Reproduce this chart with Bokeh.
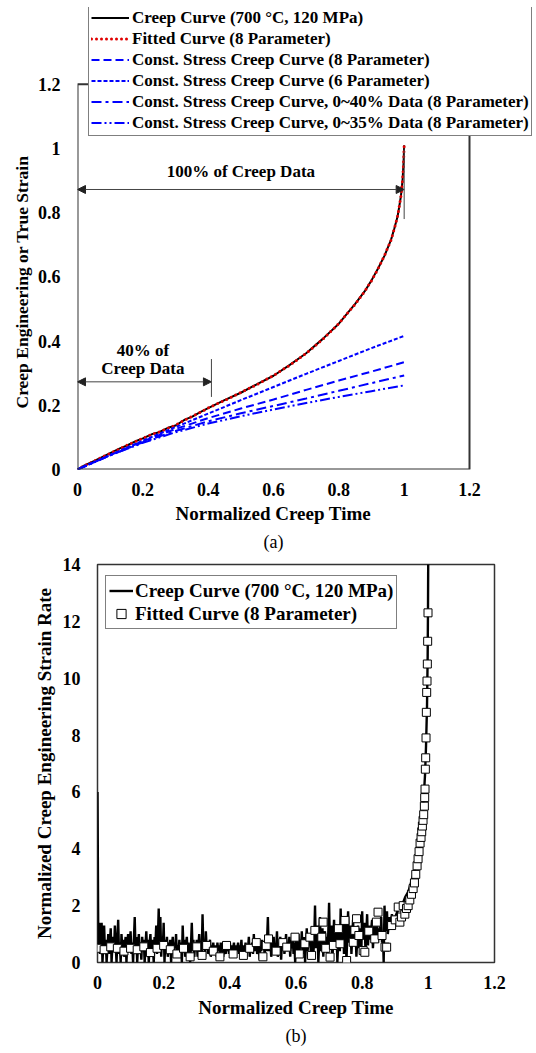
import numpy as np
from bokeh.plotting import figure
from bokeh.models import (Arrow, NormalHead, Label, Title, FixedTicker, Range1d, BoxAnnotation)
from bokeh.embed import file_html
from bokeh.resources import INLINE

# ---------------- Panel (a) data ----------------
creep_t = [0, 0.02, 0.05, 0.08, 0.1, 0.13, 0.15, 0.18, 0.2, 0.23, 0.25, 0.28, 0.3, 0.33, 0.35,
           0.38, 0.4, 0.45, 0.5, 0.55, 0.6, 0.65, 0.7, 0.75, 0.8, 0.85, 0.88, 0.9, 0.92,
           0.94, 0.96, 0.97, 0.98, 0.985, 0.99, 0.995, 0.998, 1.0]
creep_strain = [0, 0.012, 0.026, 0.041, 0.051, 0.066, 0.074, 0.089, 0.097, 0.111, 0.116, 0.131,
                0.137, 0.156, 0.164, 0.181, 0.191, 0.216, 0.239, 0.266, 0.292, 0.326, 0.362,
                0.406, 0.454, 0.516, 0.556, 0.589, 0.626, 0.666, 0.716, 0.751, 0.789,
                0.819, 0.851, 0.9, 0.952, 1.01]
fit8_strain = [0, 0.011, 0.026, 0.041, 0.05, 0.065, 0.075, 0.088, 0.098, 0.11, 0.117, 0.13,
               0.138, 0.155, 0.165, 0.18, 0.192, 0.215, 0.24, 0.265, 0.293, 0.325, 0.362,
               0.405, 0.455, 0.515, 0.556, 0.588, 0.625, 0.667, 0.715, 0.75, 0.79, 0.82,
               0.85, 0.9, 0.95, 1.01]
cs_t = [0, 0.1, 0.2, 0.3, 0.4, 0.5, 0.6, 0.7, 0.8, 0.9, 1.0]
cs8_strain = [0, 0.045, 0.088, 0.126, 0.16, 0.19, 0.218, 0.248, 0.277, 0.305, 0.334]
cs6_strain = [0, 0.045, 0.09, 0.132, 0.174, 0.216, 0.257, 0.298, 0.338, 0.378, 0.416]
cs40_strain = [0, 0.044, 0.085, 0.12, 0.15, 0.175, 0.198, 0.221, 0.245, 0.269, 0.293]
cs35_strain = [0, 0.044, 0.083, 0.116, 0.143, 0.166, 0.187, 0.207, 0.226, 0.244, 0.262]

x_ticks = [0, 0.2, 0.4, 0.6, 0.8, 1, 1.2]
x_tick_labels = ["0", "0.2", "0.4", "0.6", "0.8", "1", "1.2"]
ya_ticks = [0, 0.2, 0.4, 0.6, 0.8, 1, 1.2]
ya_tick_labels = ["0", "0.2", "0.4", "0.6", "0.8", "1", "1.2"]

# ---------------- Panel (b) data ----------------
rate_noisy = [
    6.0, 0.5, 1.4, 0.3, 0.7, 1.4, 0.0, 0.6, 1.3, 0.4, 0.8, 0.0, 0.5, 1.0, 0.3, 0.7, 1.2, 0.0, 0.6, 0.9,
    0.4, 1.3, 0.6, 0.0, 0.8, 1.5, 0.3, 0.7, 0.0, 1.0, 0.5, 0.8, 0.2, 0.6, 0.9, 0.0, 0.7, 1.0, 0.4, 0.6,
    1.1, 0.3, 0.7, 0.0, 0.8, 1.6, 0.4, 0.9, 0.0, 0.6, 1.0, 0.3, 0.7, 0.1, 0.9, 0.5, 0.8, 0.0, 0.6, 1.1,
    0.4, 0.8, 0.0, 0.7, 1.0, 0.3, 0.8, 0.5, 0.0, 0.9, 0.6, 1.3, 0.3, 0.8, 1.9, 0.5, 1.6, 0.2, 0.9, 0.5,
    1.4, 0.0, 0.8, 0.5, 0.9, 0.2, 0.7, 0.4, 0.8, 0.0, 0.6, 0.9, 0.3, 0.7, 0.5, 1.0, 0.2, 0.6, 0.4, 0.8,
    0.3, 0.7, 0.0, 1.3, 0.5, 0.8, 0.2, 0.6, 0.9, 0.3, 0.7, 0.4, 0.0, 0.6, 1.4, 0.4, 0.8, 0.2, 0.7, 0.5,
    0.8, 0.2, 0.6, 1.0, 0.4, 0.7, 0.3, 1.7, 0.5, 0.8, 0.2, 1.1, 0.5, 0.7, 0.3, 0.6, 0.8, 0.2, 0.6, 0.4,
    0.7, 0.3, 0.6, 0.5, 0.2, 0.7, 0.4, 0.6, 0.3, 0.7, 0.5, 0.4, 0.2, 0.6, 0.5, 0.3, 0.7, 0.4, 0.6, 0.3,
    0.7, 0.4, 0.3, 0.6, 0.5, 0.7, 0.2, 0.6, 0.4, 0.5, 0.7, 0.3, 0.6, 0.4, 0.8, 0.3, 0.5, 0.6, 0.4, 0.7,
    0.3, 0.6, 0.5, 0.9, 0.2, 0.6, 0.4, 0.7, 0.3, 1.0, 0.4, 0.6, 0.8, 0.3, 0.5, 0.7, 0.1, 0.6, 0.4, 0.8,
    0.5, 0.7, 0.3, 0.6, 0.4, 0.8, 1.6, 0.4, 0.6, 0.8, 0.2, 0.7, 0.5, 0.9, 0.3, 0.6, 0.5, 1.1, 0.2, 0.7,
    0.4, 0.9, 0.1, 0.7, 0.5, 0.8, 0.3, 0.6, 1.0, 0.4, 0.7, 0.5, 0.9, 0.2, 0.8, 0.5, 1.0, 0.3, 0.7, 0.0,
    0.9, 0.4, 0.7, 1.0, 0.2, 0.8, 0.5, 1.1, 0.3, 0.7, 0.9, 0.0, 0.6, 1.2, 0.4, 0.8, 0.6, 1.0, 0.3, 0.7,
    1.0, 0.3, 0.8, 2.0, 0.5, 0.9, 1.3, 0.0, 0.7, 1.6, 0.4, 0.9, 1.2, 0.2, 0.8, 1.1, 0.5, 0.9, 0.3, 1.0,
    2.1, 0.6, 1.0, 1.3, 0.1, 0.8, 1.5, 0.5, 0.9, 1.2, 0.0, 0.7, 1.1, 0.4, 1.9, 0.6, 1.0, 1.4, 0.3, 0.8,
    1.4, 0.0, 1.0, 1.8, 0.7, 1.1, 1.3, 0.3, 0.9, 1.5, 0.6, 1.0, 1.2, 0.2, 0.8, 1.3, 0.5, 1.0, 1.2, 0.4,
    1.8, 0.8, 1.2, 1.4, 0.4, 1.0, 1.7, 0.6, 1.1, 1.3, 0.8, 1.2, 1.5, 0.5, 1.0, 1.3, 0.9, 1.2, 1.5, 0.7,
    1.2, 0.9, 1.3, 1.6, 0.7, 1.1, 0.0, 2.0, 1.1, 1.4, 1.8, 1.0, 1.3, 1.6, 1.2, 1.5, 1.7, 1.3, 1.6, 1.4,
]
rate_noisy_t = np.arange(len(rate_noisy)) * 0.0025
rate_tail_t = [0.90, 0.91, 0.92, 0.93, 0.94, 0.95, 0.96, 0.97, 0.975, 0.98, 0.985, 0.99,
               0.993, 0.996, 0.998, 0.999, 1.0]
rate_tail = [1.6, 1.9, 2.0, 2.3, 2.5, 2.9, 3.3, 3.8, 4.3, 4.8, 5.6, 6.6, 7.6, 9.0, 10.8, 12.5, 15.0]
rate_t = list(rate_noisy_t) + rate_tail_t
rate_val = rate_noisy + rate_tail

fit_rate_t = [0.0, 0.02, 0.04, 0.06, 0.08, 0.1, 0.12, 0.14, 0.16, 0.18, 0.2, 0.22, 0.24, 0.26,
              0.28, 0.3, 0.316, 0.33, 0.35, 0.37, 0.39, 0.41, 0.441, 0.46, 0.48, 0.5, 0.51,
              0.517, 0.54, 0.56, 0.572, 0.597, 0.61, 0.627, 0.642, 0.647, 0.657, 0.678, 0.682,
              0.69, 0.703, 0.713, 0.728, 0.733, 0.748, 0.753, 0.773, 0.778, 0.783, 0.79, 0.803,
              0.808, 0.82, 0.838, 0.843, 0.848, 0.86, 0.869, 0.874, 0.889, 0.9, 0.909, 0.914,
              0.919, 0.924, 0.929, 0.934, 0.939, 0.944, 0.949, 0.954, 0.958, 0.962, 0.966,
              0.969, 0.972, 0.975, 0.978, 0.98, 0.982, 0.984, 0.986, 0.988, 0.989, 0.99,
              0.991, 0.992, 0.993, 0.994, 0.995, 0.996, 0.997, 0.998, 0.999]
fit_rate = [0.5, 0.45, 0.55, 0.5, 0.4, 0.5, 0.45, 0.55, 0.35, 0.5, 0.6, 0.45, 0.3, 0.5,
            0.2, 0.55, 0.25, 0.6, 0.4, 0.2, 0.6, 0.3, 0.25, 0.5, 0.7, 0.2, 0.6,
            0.83, 0.4, 0.7, 0.54, 0.89, 0.3, 0.66, 0.89, 0.25, 1.13, 0.89, 1.42,
            0.5, 0.19, 0.6, 1.19, 0.66, 1.48, 0.07, 0.71, 1.13, 1.54, 0.95, 0.42,
            0.36, 1.1, 0.83, 1.42, 1.77, 0.95, 0.54, 0.54, 1.3, 1.5, 1.95, 1.42,
            1.6, 2.0, 1.7, 1.9, 2.0, 2.2, 2.4, 2.6, 2.8, 3.1, 3.4,
            3.65, 3.9, 4.2, 4.4, 4.6, 4.8, 5.0, 5.2, 5.5, 5.8, 6.1,
            6.8, 7.2, 7.9, 8.8, 9.5, 9.9, 10.5, 11.3, 12.3]

yb_ticks = [0, 2, 4, 6, 8, 10, 12, 14]

FONT = "Liberation Serif"


def style(p, yticks, ylabels=None):
    p.xaxis.ticker = FixedTicker(ticks=x_ticks)
    p.xaxis.major_label_overrides = {t: l for t, l in zip(x_ticks, x_tick_labels)}
    p.yaxis.ticker = FixedTicker(ticks=yticks)
    if ylabels:
        p.yaxis.major_label_overrides = {t: l for t, l in zip(yticks, ylabels)}
    p.xgrid.grid_line_color = None
    p.ygrid.grid_line_color = None
    for ax in (p.xaxis[0], p.yaxis[0]):
        ax.major_tick_line_color = None
        ax.minor_tick_line_color = None
        ax.major_tick_out = 0
        ax.major_tick_in = 0
        ax.minor_tick_out = 0
        ax.minor_tick_in = 0
        ax.axis_line_color = None
        ax.major_label_text_font = FONT
        ax.major_label_text_font_style = "bold"
        ax.major_label_text_font_size = "18px"
        ax.major_label_text_color = "black"
        ax.axis_label_text_font = FONT
        ax.axis_label_text_font_style = "bold"
        ax.axis_label_text_font_size = "19px"
        ax.axis_label_text_color = "black"
    p.xaxis.major_label_standoff = 13
    p.yaxis.major_label_standoff = 17
    p.xaxis.axis_label_standoff = 5
    p.yaxis.axis_label_standoff = 6


# ---------------- Figure (a) ----------------
# The frame is extended up/right so that the legend (which overhangs the axes box) is not clipped;
# the visible axes box (0..1.2 x 0..1.2) is drawn as a box annotation.
pa = figure(width=536, height=555, output_backend="svg", toolbar_location=None,
            x_range=Range1d(0, 1.2 * 459 / 392), y_range=Range1d(0, 1.2 * 464 / 387),
            min_border_left=77, min_border_right=0, min_border_top=7, min_border_bottom=84)
style(pa, ya_ticks, ya_tick_labels)
pa.outline_line_color = None
pa.add_layout(BoxAnnotation(left=0, right=1.2, bottom=0, top=1.2, fill_alpha=0,
                            line_color="#333333", line_width=2, line_alpha=1))

pa.line(creep_t, creep_strain, line_color="black", line_width=2,
        legend_label="Creep Curve (700 °C, 120 MPa)")
pa.line(creep_t, fit8_strain, line_color="#e00000", line_width=3, line_dash="0 5",
        line_cap="round", legend_label="Fitted Curve (8 Parameter)")
pa.line(cs_t, cs8_strain, line_color="#0000ff", line_width=2, line_dash="8 4",
        legend_label="Const. Stress Creep Curve (8 Parameter)")
pa.line(cs_t, cs6_strain, line_color="#0000ff", line_width=2, line_dash="4 2",
        legend_label="Const. Stress Creep Curve (6 Parameter)")
pa.line(cs_t, cs40_strain, line_color="#0000ff", line_width=2, line_dash="10 4 3 4",
        legend_label="Const. Stress Creep Curve, 0~40% Data (8 Parameter)")
pa.line(cs_t, cs35_strain, line_color="#0000ff", line_width=2, line_dash="10 3 2 3 2 3",
        legend_label="Const. Stress Creep Curve, 0~35% Data (8 Parameter)")

lg = pa.legend[0]
lg.location = (11, 333)
lg.label_text_font = FONT
lg.label_text_font_style = "bold"
lg.label_text_font_size = "17px"
lg.label_text_color = "black"
lg.border_line_color = "black"
lg.border_line_width = 1.2
lg.background_fill_alpha = 1.0
lg.padding = 2
lg.spacing = 0
lg.margin = 0
lg.glyph_width = 38
lg.glyph_height = 21
lg.label_height = 21
lg.label_standoff = 3

head = dict(size=8, fill_color="#222222", line_color="#222222")
pa.add_layout(Arrow(x_start=0, y_start=0.872, x_end=1.0, y_end=0.872,
                    start=NormalHead(**head), end=NormalHead(**head),
                    line_color="#444444", line_width=1))
pa.add_layout(Arrow(x_start=1.0, y_start=0.78, x_end=1.0, y_end=1.0, end=None,
                    line_color="#444444", line_width=1))
pa.add_layout(Arrow(x_start=0, y_start=0.273, x_end=0.41, y_end=0.273,
                    start=NormalHead(**head), end=NormalHead(**head),
                    line_color="#444444", line_width=1))
pa.add_layout(Arrow(x_start=0.41, y_start=0.226, x_end=0.41, y_end=0.344, end=None,
                    line_color="#444444", line_width=1))
for txt, tx, ty in [("100% of Creep Data", 0.5, 0.927), ("40% of", 0.2, 0.372),
                    ("Creep Data", 0.2, 0.313)]:
    pa.add_layout(Label(x=tx, y=ty, text=txt, text_align="center", text_baseline="middle",
                        text_font=FONT, text_font_style="bold", text_font_size="17px",
                        text_color="black"))
# axis titles as side titles, positioned over the visible axes box
pa.add_layout(Title(text="Normalized Creep Time", align="left", text_font=FONT,
                    text_font_style="bold", text_font_size="19px", text_color="black",
                    standoff=5, offset=98), "below")
pa.add_layout(Title(text="(a)", align="left", text_font=FONT, text_font_style="normal",
                    text_font_size="18px", text_color="black", standoff=7, offset=186), "below")
pa.add_layout(Title(text="Creep Engineering or True Strain", align="left", text_font=FONT,
                    text_font_style="bold", text_font_size="17.5px", text_color="black",
                    standoff=5, offset=61), "left")

# ---------------- Figure (b) ----------------
pb = figure(width=536, height=498, output_backend="svg", toolbar_location=None,
            x_range=Range1d(0, 1.2), y_range=Range1d(0, 14),
            min_border_left=97, min_border_right=42, min_border_top=9, min_border_bottom=91)
style(pb, yb_ticks)
pb.outline_line_color = "#333333"
pb.outline_line_width = 1.5
pb.xaxis.axis_label = "Normalized Creep Time"
pb.yaxis.axis_label = "Normalized Creep Engineering Strain Rate"
pb.yaxis.axis_label_standoff = 5

pb.line(rate_t, rate_val, line_color="black", line_width=2.4,
        legend_label="Creep Curve (700 °C, 120 MPa)")
pb.scatter(fit_rate_t, fit_rate, marker="square", size=8, fill_color="white",
           line_color="black", line_width=1, legend_label="Fitted Curve (8 Parameter)")

lb = pb.legend[0]
lb.location = (8, 333)
lb.label_text_font = FONT
lb.label_text_font_style = "bold"
lb.label_text_font_size = "19px"
lb.label_text_color = "black"
lb.border_line_color = "black"
lb.border_line_width = 1.5
lb.padding = 3
lb.spacing = 0
lb.margin = 0
lb.glyph_width = 24
lb.glyph_height = 23
lb.label_height = 23
lb.label_standoff = 2

pb.add_layout(Title(text="(b)", align="center", text_font=FONT, text_font_style="normal",
                    text_font_size="18px", text_color="black", standoff=6), "below")

open("out.html", "w").write(file_html([pa, pb], INLINE))
